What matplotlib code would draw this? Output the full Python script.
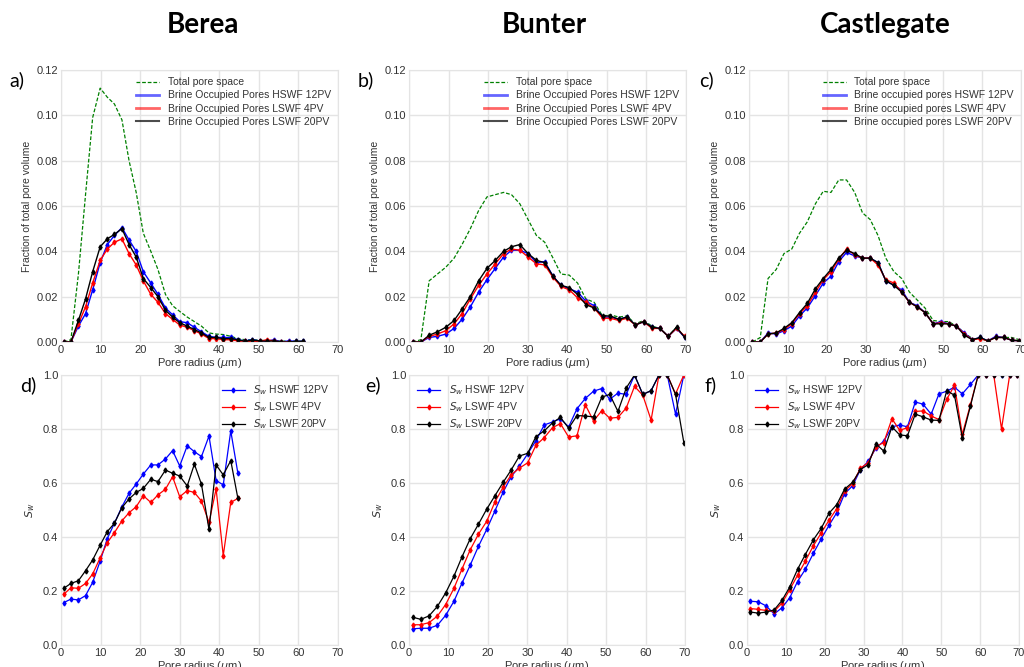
import matplotlib
matplotlib.use('Agg')
import matplotlib.pyplot as plt
from matplotlib.lines import Line2D

plt.rcParams['font.family'] = ['Liberation Sans', 'DejaVu Sans']

# pore radius bin centres (um)
x_berea = [0.7, 2.5, 4.4, 6.2, 8.0, 9.9, 11.7, 13.5, 15.4, 17.2, 19.0, 20.8, 22.7, 24.5, 26.4, 28.2, 30.0,
           31.9, 33.7, 35.5, 37.4, 39.2, 41.0, 42.9, 44.7, 46.5, 48.3, 50.2, 52.0, 53.8, 55.7, 57.5, 59.3, 61.2]
x_bunter = [0.9, 3.0, 5.1, 7.2, 9.3, 11.4, 13.4, 15.5, 17.6, 19.7, 21.8, 23.9, 25.9, 28.0, 30.1, 32.2, 34.3,
            36.4, 38.4, 40.5, 42.6, 44.7, 46.8, 48.9, 50.9, 53.0, 55.1, 57.2, 59.3, 61.4, 63.4, 65.5, 67.6, 69.7]
x_castle = [0.9, 2.9, 4.9, 7.0, 9.0, 11.0, 13.0, 15.0, 17.1, 19.1, 21.1, 23.1, 25.1, 27.2, 29.2, 31.2, 33.2, 35.2,
            37.3, 39.3, 41.3, 43.3, 45.3, 47.4, 49.4, 51.4, 53.4, 55.4, 57.5, 59.5, 61.5, 63.5, 65.5, 67.6, 69.6]

# --- Berea ---
berea_total = [0.0, 0.001, 0.030, 0.065, 0.099, 0.112, 0.108, 0.105, 0.098, 0.080, 0.066, 0.048, 0.040, 0.032,
               0.021, 0.016, 0.0135, 0.011, 0.009, 0.007, 0.004, 0.0035, 0.0033, 0.0025, 0.0015, 0.001, 0.001,
               0.0008, 0.0006, 0.0006, 0.0004, 0.0004, 0.0003, 0.0003]
berea_hswf = [0.0, 0.0, 0.007, 0.0125, 0.023, 0.035, 0.043, 0.047, 0.0505, 0.045, 0.040, 0.031, 0.026, 0.021,
              0.015, 0.012, 0.009, 0.0085, 0.0065, 0.0045, 0.0025, 0.002, 0.002, 0.002, 0.001, 0.0005, 0.001,
              0.0005, 0.0003, 0.001, 0.0, 0.0005, 0.0003, 0.0003]
berea_lswf4 = [0.0, 0.0, 0.008, 0.0155, 0.026, 0.036, 0.041, 0.044, 0.0455, 0.039, 0.034, 0.027, 0.021, 0.0175,
               0.0125, 0.010, 0.0075, 0.0065, 0.005, 0.0035, 0.0015, 0.0015, 0.001, 0.001, 0.0005, 0.0003,
               0.0003, 0.0003, 0.001, 0.0005, 0.0, 0.0, 0.0, 0.0]
berea_lswf20 = [0.0, 0.0, 0.0095, 0.019, 0.031, 0.042, 0.0455, 0.0475, 0.050, 0.043, 0.0375, 0.028, 0.024, 0.020,
                0.014, 0.011, 0.0085, 0.007, 0.0055, 0.004, 0.002, 0.002, 0.0015, 0.0015, 0.001, 0.0003, 0.0008,
                0.0005, 0.0003, 0.0005, 0.0, 0.0, 0.0003, 0.0003]
berea_sw_hswf = [0.157, 0.170, 0.167, 0.183, 0.232, 0.311, 0.394, 0.451, 0.512, 0.562, 0.596, 0.633, 0.667,
                 0.667, 0.689, 0.720, 0.663, 0.738, 0.716, 0.698, 0.774, 0.609, 0.593, 0.793, 0.636]
berea_sw_lswf4 = [0.188, 0.212, 0.210, 0.228, 0.263, 0.323, 0.379, 0.416, 0.460, 0.490, 0.512, 0.553, 0.528,
                  0.556, 0.577, 0.623, 0.549, 0.572, 0.565, 0.533, 0.454, 0.578, 0.331, 0.528, 0.543]
berea_sw_lswf20 = [0.210, 0.228, 0.238, 0.275, 0.315, 0.370, 0.420, 0.451, 0.509, 0.541, 0.565, 0.580, 0.614,
                   0.605, 0.648, 0.636, 0.626, 0.589, 0.670, 0.595, 0.428, 0.667, 0.630, 0.683, 0.543]

# --- Bunter ---
bunter_total = [0.0, 0.001, 0.027, 0.030, 0.033, 0.037, 0.043, 0.050, 0.058, 0.064, 0.065, 0.066, 0.065, 0.061,
                0.054, 0.047, 0.044, 0.037, 0.030, 0.0295, 0.026, 0.019, 0.0175, 0.0115, 0.012, 0.011, 0.0115,
                0.008, 0.0095, 0.007, 0.006, 0.0025, 0.0065, 0.002]
bunter_hswf = [0.0, 0.0, 0.002, 0.0025, 0.0035, 0.006, 0.010, 0.0155, 0.022, 0.0275, 0.0325, 0.0375, 0.0405,
               0.0405, 0.039, 0.035, 0.0355, 0.029, 0.025, 0.0235, 0.022, 0.018, 0.016, 0.011, 0.011, 0.010,
               0.011, 0.0075, 0.009, 0.0065, 0.006, 0.0025, 0.006, 0.002]
bunter_lswf4 = [0.0, 0.0, 0.0025, 0.0035, 0.005, 0.008, 0.0125, 0.019, 0.025, 0.030, 0.0345, 0.039, 0.041,
                0.0405, 0.0375, 0.0345, 0.034, 0.0285, 0.0245, 0.023, 0.0195, 0.0175, 0.015, 0.0105, 0.0105,
                0.0095, 0.0105, 0.0075, 0.009, 0.006, 0.006, 0.0025, 0.006, 0.0025]
bunter_lswf20 = [0.0, 0.0, 0.003, 0.0045, 0.0065, 0.0095, 0.0145, 0.020, 0.027, 0.0325, 0.036, 0.040, 0.042,
                 0.043, 0.039, 0.036, 0.035, 0.029, 0.025, 0.024, 0.021, 0.0165, 0.015, 0.0115, 0.0115, 0.010,
                 0.011, 0.0075, 0.009, 0.0065, 0.006, 0.0025, 0.0065, 0.002]
bunter_sw_hswf = [0.060, 0.062, 0.062, 0.073, 0.110, 0.162, 0.228, 0.295, 0.365, 0.428, 0.497, 0.567, 0.623,
                  0.662, 0.708, 0.757, 0.815, 0.826, 0.838, 0.808, 0.875, 0.913, 0.940, 0.950, 0.910, 0.933,
                  0.928, 1.0, 0.928, 0.942, 1.0, 1.0, 0.855, 1.0]
bunter_sw_lswf4 = [0.075, 0.075, 0.083, 0.107, 0.150, 0.210, 0.280, 0.352, 0.410, 0.458, 0.530, 0.585, 0.630,
                   0.655, 0.675, 0.740, 0.768, 0.805, 0.820, 0.770, 0.775, 0.890, 0.830, 0.868, 0.840, 0.843,
                   0.878, 0.958, 0.925, 0.833, 1.0, 1.0, 0.930, 1.0]
bunter_sw_lswf20 = [0.103, 0.095, 0.108, 0.143, 0.193, 0.255, 0.325, 0.393, 0.447, 0.503, 0.553, 0.603, 0.648,
                    0.700, 0.710, 0.772, 0.793, 0.823, 0.843, 0.803, 0.850, 0.848, 0.845, 0.918, 0.928, 0.865,
                    0.952, 1.0, 0.928, 0.942, 1.0, 1.0, 0.928, 0.750]

# --- Castlegate ---
castle_total = [0.0, 0.002, 0.028, 0.032, 0.039, 0.041, 0.048, 0.053, 0.061, 0.0665, 0.066, 0.0715, 0.0715,
                0.066, 0.057, 0.054, 0.047, 0.037, 0.031, 0.028, 0.022, 0.0185, 0.015, 0.0095, 0.009, 0.009,
                0.007, 0.004, 0.0015, 0.0015, 0.0005, 0.002, 0.002, 0.002, 0.001]
castle_hswf = [0.0, 0.0, 0.004, 0.0035, 0.005, 0.007, 0.0115, 0.015, 0.0205, 0.026, 0.029, 0.0355, 0.0395,
               0.038, 0.037, 0.037, 0.035, 0.027, 0.025, 0.023, 0.0175, 0.016, 0.013, 0.008, 0.009, 0.008,
               0.007, 0.004, 0.001, 0.002, 0.0005, 0.0025, 0.002, 0.0008, 0.0005]
castle_lswf4 = [0.0, 0.0, 0.0035, 0.004, 0.0055, 0.008, 0.0125, 0.016, 0.022, 0.0275, 0.031, 0.0365, 0.041,
                0.0385, 0.037, 0.037, 0.034, 0.0275, 0.026, 0.022, 0.0175, 0.0155, 0.013, 0.008, 0.0085, 0.008,
                0.007, 0.0035, 0.001, 0.0015, 0.0005, 0.002, 0.002, 0.0008, 0.0005]
castle_lswf20 = [0.0, 0.0, 0.0035, 0.004, 0.006, 0.0085, 0.013, 0.017, 0.0235, 0.028, 0.032, 0.037, 0.0405,
                 0.039, 0.037, 0.037, 0.035, 0.027, 0.025, 0.022, 0.0175, 0.0155, 0.013, 0.008, 0.008, 0.008,
                 0.007, 0.003, 0.001, 0.002, 0.0005, 0.002, 0.002, 0.0008, 0.0005]
castle_sw_hswf = [0.162, 0.160, 0.145, 0.115, 0.138, 0.175, 0.235, 0.280, 0.340, 0.393, 0.443, 0.490, 0.560,
                  0.590, 0.650, 0.680, 0.730, 0.755, 0.808, 0.815, 0.808, 0.900, 0.892, 0.855, 0.930, 0.940,
                  0.955, 0.930, 0.965, 1.0, 1.0, 1.0, 1.0, 1.0, 1.0]
castle_sw_lswf4 = [0.135, 0.132, 0.128, 0.125, 0.155, 0.205, 0.258, 0.310, 0.368, 0.415, 0.462, 0.505, 0.570,
                   0.598, 0.655, 0.675, 0.735, 0.750, 0.838, 0.795, 0.805, 0.865, 0.867, 0.848, 0.835, 0.910,
                   0.962, 0.780, 0.890, 1.0, 1.0, 1.0, 0.800, 1.0, 1.0]
castle_sw_lswf20 = [0.122, 0.118, 0.122, 0.130, 0.165, 0.215, 0.280, 0.335, 0.390, 0.432, 0.488, 0.520, 0.577,
                    0.603, 0.650, 0.668, 0.745, 0.718, 0.808, 0.778, 0.775, 0.855, 0.845, 0.833, 0.832, 0.942,
                    0.925, 0.768, 0.885, 1.0, 1.0, 1.0, 1.0, 1.0, 1.0]

names = ['Berea', 'Bunter', 'Castlegate']
GRID = '#e4e4e4'
TXT = '#333333'

fig = plt.figure(figsize=(10.24, 6.67), dpi=100)
W, H = 1024.0, 667.0


def make_ax(left, top, right, bottom):
    ax = fig.add_axes([left / W, 1 - bottom / H, (right - left) / W, (bottom - top) / H])
    ax.set_facecolor('white')
    ax.grid(True, color=GRID, lw=1.0)
    ax.set_axisbelow(True)
    for s in ax.spines.values():
        s.set_color(GRID)
    ax.tick_params(length=0, labelsize=8, labelcolor=TXT, pad=2)
    ax.set_xlim(0, 70)
    ax.set_xticks(range(0, 71, 10))
    ax.set_xlabel('Pore radius ($\\mu$m)', fontsize=8, color=TXT, labelpad=1)
    return ax


def top_panel(ax, x, total, hswf, lswf4, lswf20, lab):
    ax.plot(x, total, '--', color='green', lw=0.9, dashes=(3, 1.5))
    ax.plot(x, hswf, '-', color='blue', lw=1.0, marker='d', ms=2.5)
    ax.plot(x, lswf4, '-', color='red', lw=1.0, marker='d', ms=2.5)
    ax.plot(x, lswf20, '-', color='black', lw=1.0, marker='d', ms=2.5)
    ax.set_ylim(0, 0.12)
    ax.set_yticks([0.0, 0.02, 0.04, 0.06, 0.08, 0.10, 0.12])
    ax.set_yticklabels(['0.00', '0.02', '0.04', '0.06', '0.08', '0.10', '0.12'])
    ax.set_ylabel('Fraction of total pore volume', fontsize=7.5, color=TXT, labelpad=3)
    handles = [Line2D([], [], color='green', ls='--', lw=0.9, dashes=(3, 1.5)),
               Line2D([], [], color='blue', lw=2, alpha=0.6),
               Line2D([], [], color='red', lw=2, alpha=0.6),
               Line2D([], [], color='black', lw=1.5, alpha=0.7)]
    labels = ['Total pore space'] + [lab + ' ' + s for s in ['HSWF 12PV', 'LSWF 4PV', 'LSWF 20PV']]
    leg = ax.legend(handles, labels, loc='upper right', frameon=False, fontsize=7.5,
                    handlelength=2.2, labelspacing=0.3, borderaxespad=0.3)
    for t in leg.get_texts():
        t.set_color(TXT)


def bottom_panel(ax, x, hswf, lswf4, lswf20, loc):
    n = len(hswf)
    ax.plot(x[:n], hswf, '-', color='blue', lw=0.9, marker='d', ms=2.5, label='$S_w$ HSWF 12PV')
    ax.plot(x[:n], lswf4, '-', color='red', lw=0.9, marker='d', ms=2.5, label='$S_w$ LSWF 4PV')
    ax.plot(x[:n], lswf20, '-', color='black', lw=0.9, marker='d', ms=2.5, label='$S_w$ LSWF 20PV')
    ax.set_ylim(0, 1.0)
    ax.set_yticks([0.0, 0.2, 0.4, 0.6, 0.8, 1.0])
    ax.set_yticklabels(['0.0', '0.2', '0.4', '0.6', '0.8', '1.0'])
    ax.set_ylabel('$S_w$', fontsize=8, color=TXT, labelpad=4)
    leg = ax.legend(loc=loc, frameon=False, fontsize=7.5, handlelength=2.2,
                    labelspacing=0.3, borderaxespad=0.4)
    for t in leg.get_texts():
        t.set_color(TXT)


ax_a = make_ax(61, 70, 338, 342)
ax_b = make_ax(409, 70, 686, 342)
ax_c = make_ax(749, 70, 1021, 342)
ax_d = make_ax(61, 375, 338, 645)
ax_e = make_ax(409, 375, 685, 645)
ax_f = make_ax(747, 375, 1019, 645)

top_panel(ax_a, x_berea, berea_total, berea_hswf, berea_lswf4, berea_lswf20, 'Brine Occupied Pores')
top_panel(ax_b, x_bunter, bunter_total, bunter_hswf, bunter_lswf4, bunter_lswf20, 'Brine Occupied Pores')
top_panel(ax_c, x_castle, castle_total, castle_hswf, castle_lswf4, castle_lswf20, 'Brine occupied pores')

bottom_panel(ax_d, x_berea, berea_sw_hswf, berea_sw_lswf4, berea_sw_lswf20, 'upper right')
bottom_panel(ax_e, x_bunter, bunter_sw_hswf, bunter_sw_lswf4, bunter_sw_lswf20, 'upper left')
bottom_panel(ax_f, x_castle, castle_sw_hswf, castle_sw_lswf4, castle_sw_lswf20, 'upper left')

# column titles
for name, cx in zip(names, [203, 544, 885]):
    fig.text(cx / W, 1 - 25 / H, name, ha='center', va='center', fontsize=20,
             fontweight='bold', family='Lato')

# panel letters
for lab, px, py in [('a)', 17, 80), ('b)', 366, 80), ('c)', 706, 80),
                    ('d)', 28, 385), ('e)', 373, 385), ('f)', 711, 385)]:
    fig.text(px / W, 1 - py / H, lab, ha='center', va='center', fontsize=14, family='Lato')

fig.savefig('out.png', dpi=100)
